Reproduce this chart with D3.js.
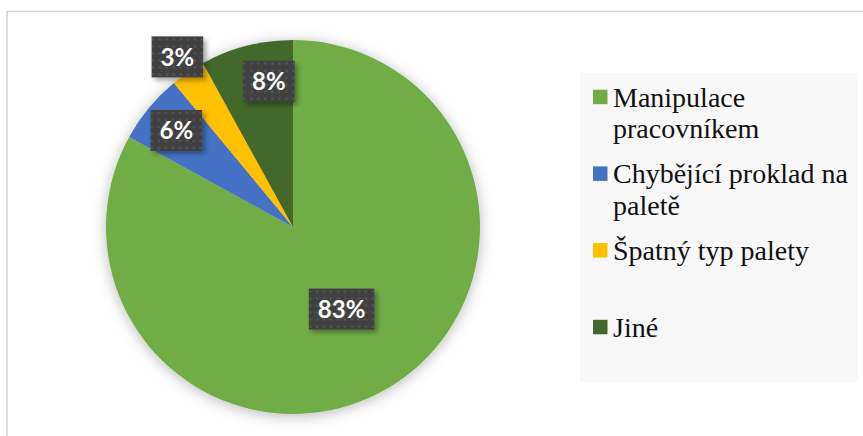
<!DOCTYPE html>
<html>
<head>
<meta charset="utf-8">
<script src="https://cdn.jsdelivr.net/npm/d3@7"></script>
<style>
  html, body { margin: 0; padding: 0; background: #fff; }
  svg { display: block; }
  .legend-text { font-family: "Liberation Serif", Tinos, "Times New Roman", Times, "Noto Serif", "DejaVu Serif", serif; }
  .data-label { font-family: Lato, Carlito, "Open Sans", "Noto Sans", sans-serif; font-weight: 700; }
</style>
</head>
<body>
<svg id="chart" width="863" height="436"></svg>
<script>
// Causes of damage, share in percent
const categories = ["Manipulace pracovníkem", "Chybějící proklad na paletě", "Špatný typ palety", "Jiné"];
const legendLines = [["Manipulace", "pracovníkem"], ["Chybějící proklad na", "paletě"], ["Špatný typ palety"], ["Jiné"]];
const values = [83, 6, 3, 8];
const colors = ["#70AD47", "#4472C4", "#FFC000", "#43682B"];

// label placement: radius as a fraction of the pie radius, plus an angular nudge (degrees)
const labelRadius = [0.51, 0.81, 1.1, 0.79];
const labelNudge = [0, 0, 0, 5];

const svg = d3.select("#chart");
const W = 863, H = 436;

const defs = svg.append("defs");
const pieShadow = defs.append("filter").attr("id", "pieShadow")
  .attr("x", "-20%").attr("y", "-20%").attr("width", "140%").attr("height", "140%");
pieShadow.append("feDropShadow").attr("dx", 0).attr("dy", 2)
  .attr("stdDeviation", 7).attr("flood-color", "#000").attr("flood-opacity", 0.28);

const boxShadow = defs.append("filter").attr("id", "boxShadow")
  .attr("x", "-30%").attr("y", "-30%").attr("width", "170%").attr("height", "170%");
boxShadow.append("feDropShadow").attr("dx", 3).attr("dy", 3)
  .attr("stdDeviation", 2.5).attr("flood-color", "#000").attr("flood-opacity", 0.35);

const dots = defs.append("pattern").attr("id", "dots")
  .attr("patternUnits", "userSpaceOnUse").attr("width", 7).attr("height", 7);
dots.append("rect").attr("width", 7).attr("height", 7).attr("fill", "#404040");
dots.append("circle").attr("cx", 3.5).attr("cy", 3.5).attr("r", 1.2).attr("fill", "#575757");

// chart area frame
svg.append("rect")
  .attr("x", 7).attr("y", 11.5).attr("width", W + 20).attr("height", H + 20)
  .attr("fill", "#fff").attr("stroke", "#cfcfcf").attr("stroke-width", 1.5);

const cx = 293, cy = 227, R = 187;

const pie = d3.pie().sort(null).value(d => d)(values);
const arc = d3.arc().innerRadius(0).outerRadius(R);

const g = svg.append("g").attr("transform", `translate(${cx},${cy})`);
g.append("g").attr("filter", "url(#pieShadow)")
  .selectAll("path").data(pie).join("path")
  .attr("d", arc)
  .attr("fill", (d, i) => colors[i]);

// data labels
const labels = g.selectAll("g.lbl").data(pie).join("g").attr("class", "lbl")
  .attr("transform", (d, i) => {
    const a = (d.startAngle + d.endAngle) / 2 + labelNudge[i] * Math.PI / 180;
    const r = R * labelRadius[i];
    return `translate(${r * Math.sin(a)},${-r * Math.cos(a)})`;
  });

labels.each(function(d, i) {
  const sel = d3.select(this);
  const box = sel.append("rect").attr("fill", "url(#dots)").attr("filter", "url(#boxShadow)");
  const t = sel.append("text")
    .attr("class", "data-label")
    .attr("text-anchor", "middle").attr("dy", "0.36em")
    .attr("font-size", 24).attr("fill", "#fff")
    .text(values[i] + "%");
  const w = t.node().getComputedTextLength() + 18;
  const h = 41;
  box.attr("x", -w / 2).attr("y", -h / 2).attr("width", w).attr("height", h);
});

// legend
const lx = 580, ly = 73, lw = 278, lh = 309;
svg.append("rect").attr("x", lx).attr("y", ly).attr("width", lw).attr("height", lh).attr("fill", "#f8f8f8");

const step = 76.7, firstBase = 106.7;
const items = svg.append("g").selectAll("g").data(categories).join("g")
  .attr("transform", (d, i) => `translate(0,${firstBase + i * step})`);
items.append("rect")
  .attr("x", 593).attr("y", -17).attr("width", 14.5).attr("height", 14.5)
  .attr("fill", (d, i) => colors[i]);
items.append("text")
  .attr("class", "legend-text")
  .attr("font-size", 28).attr("fill", "#111")
  .each(function(d, i) {
    d3.select(this).selectAll("tspan").data(legendLines[i]).join("tspan")
      .attr("x", 613).attr("y", (l, j) => j * 31.7)
      .text(l => l);
  });
</script>
</body>
</html>
